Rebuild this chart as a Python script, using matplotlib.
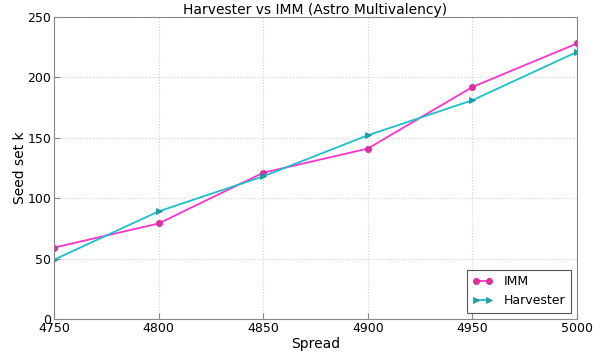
import matplotlib
matplotlib.use("Agg")
import matplotlib.pyplot as plt

spread = [4750, 4800, 4850, 4900, 4950, 5000]
imm = [59, 79, 121, 141, 192, 228]
harvester = [49, 89, 118, 152, 181, 221]

fig = plt.figure(figsize=(6.02, 3.52), dpi=100)
ax = fig.add_axes([0.0897, 0.094, 0.8688, 0.858])

ax.plot(spread, imm, color="#ff33cc", lw=1.3, marker="o", ms=4.5,
        mfc="#e0309f", mec="#c02a90", mew=0.5, label="IMM")
ax.plot(spread, harvester, color="#1cbfcc", lw=1.3, marker=">", ms=5,
        mfc="#1aa3a8", mec="#178f94", mew=0.5, label="Harvester")

ax.set_xlim(4750, 5000)
ax.set_ylim(0, 250)
ax.set_xticks(spread)
ax.set_yticks([0, 50, 100, 150, 200, 250])
ax.grid(True, color="#d0d0d0", linestyle=":", linewidth=0.8)
ax.tick_params(direction="in", length=4, labelsize=9, colors="#888888", labelcolor="black", pad=2)
for s in ax.spines.values():
    s.set_color("#888888")
ax.set_xlabel("Spread", fontsize=10, labelpad=2)
ax.set_ylabel("Seed set k", fontsize=10, labelpad=0)
ax.set_title("Harvester vs IMM (Astro Multivalency)", fontsize=10, pad=2)
leg = ax.legend(loc="lower right", fontsize=9, fancybox=False, framealpha=1,
                edgecolor="#555555", borderaxespad=0.5, handlelength=1.6,
                numpoints=2, handletextpad=0.9, borderpad=0.45, labelspacing=0.45)
leg.get_frame().set_linewidth(0.8)

fig.savefig("out.png", dpi=100)
